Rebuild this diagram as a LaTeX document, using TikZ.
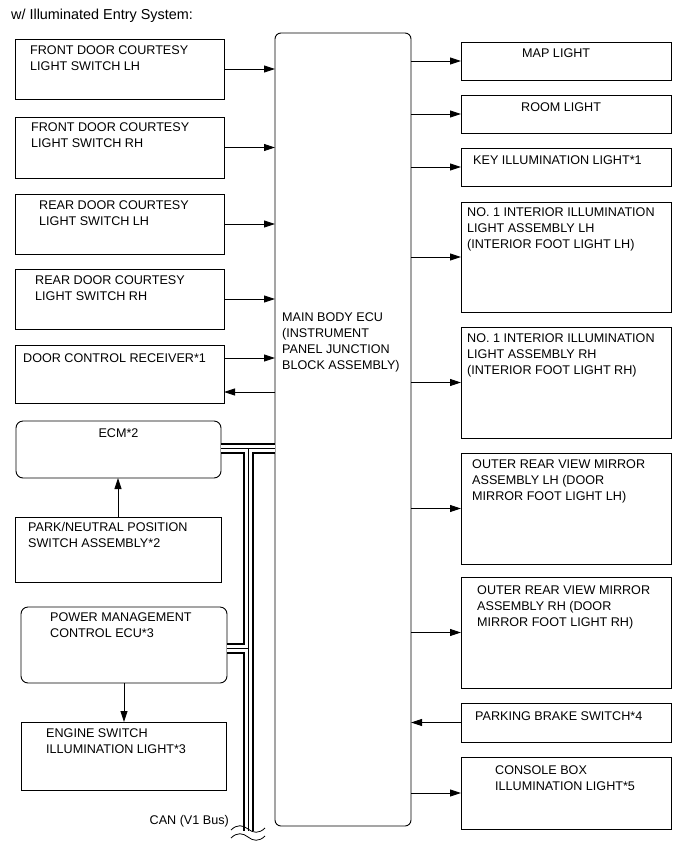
\documentclass[tikz,border=0pt]{standalone}
\usepackage{fontspec}
\setmainfont{Liberation Sans}
\usetikzlibrary{arrows.meta,positioning}

\begin{document}
\begin{tikzpicture}[
  x=1pt, y=-1pt,
  box/.style={draw, line width=0.9pt, anchor=north west, inner sep=0pt, outer sep=0pt},
  lbox/.style={box, minimum width=209pt},
  rbox/.style={box, minimum width=210pt},
  ecubox/.style={box, rounded corners=7pt},
  txt/.style={font=\fontsize{12.6}{16}\selectfont, align=left, anchor=north west, inner sep=0pt},
  arrow/.style={-{Triangle[length=11pt,width=7pt]}, line width=0.9pt},
  wave/.style={line width=0.8pt}
]
\useasboundingbox (0,0) rectangle (691,855);

\node[font=\fontsize{14.4}{17}\selectfont, anchor=base west, inner sep=0pt] (title) at (11,19) {w/ Illuminated Entry System:};

% Main body ECU
\node[ecubox, minimum width=136pt, minimum height=793pt, rounded corners=6pt] (ecu) at (275,33) {};
\node[txt] (ecu-t) at (282,312.5) {MAIN BODY ECU\\(INSTRUMENT\\PANEL JUNCTION\\BLOCK ASSEMBLY)};

% Inputs (left)
\node[lbox, minimum height=60pt] (fdl) at (15,39) {};
\node[txt] (fdl-t) at ([xshift=15pt,yshift=-6.5pt]fdl.north west) {FRONT DOOR COURTESY\\LIGHT SWITCH LH};
\node[lbox, minimum height=61pt] (fdr) at (15,117) {};
\node[txt] (fdr-t) at ([xshift=16pt,yshift=-5.5pt]fdr.north west) {FRONT DOOR COURTESY\\LIGHT SWITCH RH};
\node[lbox, minimum height=60pt] (rdl) at (15,194) {};
\node[txt] (rdl-t) at ([xshift=24pt,yshift=-6.5pt]rdl.north west) {REAR DOOR COURTESY\\LIGHT SWITCH LH};
\node[lbox, minimum height=60pt] (rdr) at (15,269) {};
\node[txt] (rdr-t) at ([xshift=20pt,yshift=-6.5pt]rdr.north west) {REAR DOOR COURTESY\\LIGHT SWITCH RH};
\node[lbox, minimum height=58pt] (dcr) at (15,345) {};
\node[txt] (dcr-t) at ([xshift=8pt,yshift=-8.5pt]dcr.north west) {DOOR CONTROL RECEIVER*1};

% ECM, park/neutral switch
\node[ecubox, minimum width=205pt, minimum height=57pt] (ecm) at (16,421) {};
\node[txt, anchor=north] (ecm-t) at ([yshift=-7.5pt]ecm.north) {ECM*2};
\node[lbox, minimum width=206pt, minimum height=65pt] (pnp) at (15,517) {};
\node[txt] (pnp-t) at ([xshift=13pt,yshift=-5.5pt]pnp.north west) {PARK/NEUTRAL POSITION\\SWITCH ASSEMBLY*2};

% Power management, engine switch
\node[ecubox, minimum width=206pt, minimum height=76pt] (pmc) at (21,607) {};
\node[txt] (pmc-t) at ([xshift=29pt,yshift=-5.5pt]pmc.north west) {POWER MANAGEMENT\\CONTROL ECU*3};
\node[lbox, minimum width=205pt, minimum height=68pt] (esw) at (21,722) {};
\node[txt] (esw-t) at ([xshift=25pt,yshift=-6.5pt]esw.north west) {ENGINE SWITCH\\ILLUMINATION LIGHT*3};

% Outputs (right)
\node[rbox, minimum height=38pt] (map) at (461,42) {};
\node[txt] (map-t) at ([xshift=61pt,yshift=-6.5pt]map.north west) {MAP LIGHT};
\node[rbox, minimum height=38pt] (room) at (461,95) {};
\node[txt] (room-t) at ([xshift=60pt,yshift=-7.5pt]room.north west) {ROOM LIGHT};
\node[rbox, minimum height=38pt] (key) at (461,148) {};
\node[txt] (key-t) at ([xshift=12pt,yshift=-7.5pt]key.north west) {KEY ILLUMINATION LIGHT*1};
\node[rbox, minimum height=110pt] (ifl) at (461,202) {};
\node[txt] (ifl-t) at ([xshift=6pt,yshift=-5.5pt]ifl.north west) {NO. 1 INTERIOR ILLUMINATION\\LIGHT ASSEMBLY LH\\(INTERIOR FOOT LIGHT LH)};
\node[rbox, minimum height=111pt] (ifr) at (461,327) {};
\node[txt] (ifr-t) at ([xshift=6pt,yshift=-6.5pt]ifr.north west) {NO. 1 INTERIOR ILLUMINATION\\LIGHT ASSEMBLY RH\\(INTERIOR FOOT LIGHT RH)};
\node[rbox, minimum height=111pt] (oml) at (461,453) {};
\node[txt] (oml-t) at ([xshift=11pt,yshift=-6.5pt]oml.north west) {OUTER REAR VIEW MIRROR\\ASSEMBLY LH (DOOR\\MIRROR FOOT LIGHT LH)};
\node[rbox, minimum height=111pt] (omr) at (461,577) {};
\node[txt] (omr-t) at ([xshift=16pt,yshift=-8.5pt]omr.north west) {OUTER REAR VIEW MIRROR\\ASSEMBLY RH (DOOR\\MIRROR FOOT LIGHT RH)};
\node[rbox, minimum height=39pt] (pkb) at (461,703) {};
\node[txt] (pkb-t) at ([xshift=14pt,yshift=-8.5pt]pkb.north west) {PARKING BRAKE SWITCH*4};
\node[rbox, minimum height=72pt] (cbx) at (461,757) {};
\node[txt] (cbx-t) at ([xshift=34pt,yshift=-8.5pt]cbx.north west) {CONSOLE BOX\\ILLUMINATION LIGHT*5};

% Connections
\foreach \n in {fdl,fdr,rdl,rdr}
  \draw[arrow] (\n.east) -- (\n.east -| ecu.west);
\draw[arrow] ([yshift=16pt]dcr.east) -- ([yshift=16pt]dcr.east -| ecu.west);
\draw[arrow] ([yshift=-18pt]dcr.east -| ecu.west) -- ([yshift=-18pt]dcr.east);
\foreach \n in {map,room,key,ifl,ifr,oml,omr,cbx}
  \draw[arrow] (ecu.east |- \n.west) -- (\n.west);
\draw[arrow] (pkb.west) -- (pkb.west -| ecu.east);
\draw[arrow] (pnp.north) -- (pnp.north |- ecm.south);
\draw[arrow] (pmc.south) -- (pmc.south |- esw.north);

% CAN bus
\coordinate (can-top) at (248,448);
\coordinate (can-pmc) at (248,648);
\coordinate (can-end) at (248,831);
\foreach \w/\c in {11/black,7/white,0.6/black}
  \draw[line width=\w pt, \c] (ecm.east |- can-top) -- (ecu.west |- can-top)
    (can-top) -- (can-end)
    (pmc.east |- can-pmc) -- (can-pmc);
\draw[wave] (231,830) .. controls (237,824) and (243,825) .. (248,829) .. controls (253,833) and (259,834) .. (265,828);
\draw[wave] (231,838) .. controls (237,832) and (243,833) .. (248,837) .. controls (253,841) and (259,842) .. (265,836);
\node[font=\fontsize{12.6}{16}\selectfont, anchor=base east, inner sep=0pt] (can-t) at (229,824.5) {CAN (V1 Bus)};

\end{tikzpicture}
\end{document}
